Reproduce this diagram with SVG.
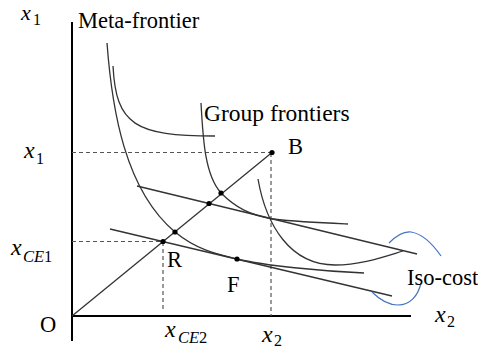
<svg xmlns="http://www.w3.org/2000/svg" width="478" height="349" viewBox="0 0 478 349">
<style>
.ax{stroke:#000;stroke-width:2;fill:none}
.cv{stroke:#333;stroke-width:1.3;fill:none}
.ds{stroke:#555;stroke-width:1.2;stroke-dasharray:4,3;fill:none}
.bl{stroke:#4472C4;stroke-width:1.2;fill:none}
.pt{fill:#000}
.t{font-family:"Liberation Serif","Times New Roman",serif;font-size:22.5px;fill:#000}
.m{font-family:"Liberation Serif","Times New Roman",serif;font-style:italic;font-size:24px;fill:#000}
.s{font-family:"Liberation Serif","Times New Roman",serif;font-style:italic;font-size:16.5px;fill:#000}
.sd{font-family:"Liberation Serif","Times New Roman",serif;font-size:16px;fill:#000}
</style>
<rect width="478" height="349" fill="#fff"/>
<g id="axes">
<line class="ax" x1="72" y1="22" x2="72" y2="341"/>
<line class="ax" x1="71" y1="316" x2="411" y2="316"/>
</g>
<g id="connectors">
<line class="ds" x1="72" y1="152.5" x2="272" y2="152.5"/>
<line class="ds" x1="271" y1="153" x2="271" y2="316"/>
<line class="ds" x1="72" y1="241.5" x2="163" y2="241.5"/>
<line class="ds" x1="163" y1="242" x2="163" y2="312"/>
<line class="cv" x1="72" y1="316" x2="272" y2="152.5"/>
<line class="cv" x1="137" y1="186" x2="417" y2="254"/>
<line class="cv" x1="110" y1="229" x2="392" y2="296"/>
</g>
<g id="meta-frontier-curve">
<path class="cv" d="M107,43 C112,110 125,190 175,232 C197,250 217,254.2 237,259 C265,265.7 320,271 364,273"/>
</g>
<g id="group-frontier-1">
<path class="cv" d="M113,66 C116,125 135,136 215,136"/>
</g>
<g id="group-frontier-2">
<path class="cv" d="M201,103 C203,140 205,175 221,193 C236,208 250,215 273,219 C300,222 325,223 348,224"/>
</g>
<g id="group-frontier-3">
<path class="cv" d="M258,179 C266,225 290,265 335,265 C360,265 380,258 403,251"/>
</g>
<g id="iso-cost-brace">
<path class="bl" d="M389,243 C396,236 403,231 411,232 C424,234 434,246 441,256"/>
<path class="bl" d="M372,292 C380,300 388,305 398,305 C410,305 418,296 421,283"/>
</g>
<g id="points">
<circle class="pt" cx="272" cy="152.5" r="2.6"/>
<circle class="pt" cx="163" cy="241.5" r="2.6"/>
<circle class="pt" cx="175" cy="232" r="2.6"/>
<circle class="pt" cx="209" cy="203.5" r="2.6"/>
<circle class="pt" cx="221" cy="193" r="2.6"/>
<circle class="pt" cx="237" cy="259" r="2.6"/>
</g>
<g id="labels">
<text class="t" x="78" y="28">Meta-frontier</text>
<text class="t" x="204" y="121" style="font-size:23.5px">Group frontiers</text>
<text class="t" x="288" y="154">B</text>
<text class="t" x="167" y="267">R</text>
<text class="t" x="227" y="292">F</text>
<text class="t" x="407" y="285">Iso-cost</text>
<text class="t" x="40" y="332">O</text>
<text class="m" x="21" y="20" style="font-size:22px">x</text><text class="sd" x="33" y="25">1</text>
<text class="m" x="24" y="158">x</text><text class="sd" x="36" y="164">1</text>
<text class="m" x="11" y="255">x</text><text class="s" x="23" y="262">CE<tspan style="font-style:normal">1</tspan></text>
<text class="m" x="165" y="337">x</text><text class="s" x="178" y="343">CE<tspan style="font-style:normal">2</tspan></text>
<text class="m" x="262" y="342">x</text><text class="sd" x="274" y="346">2</text>
<text class="m" x="435" y="322">x</text><text class="sd" x="447" y="327">2</text>
</g>
</svg>
